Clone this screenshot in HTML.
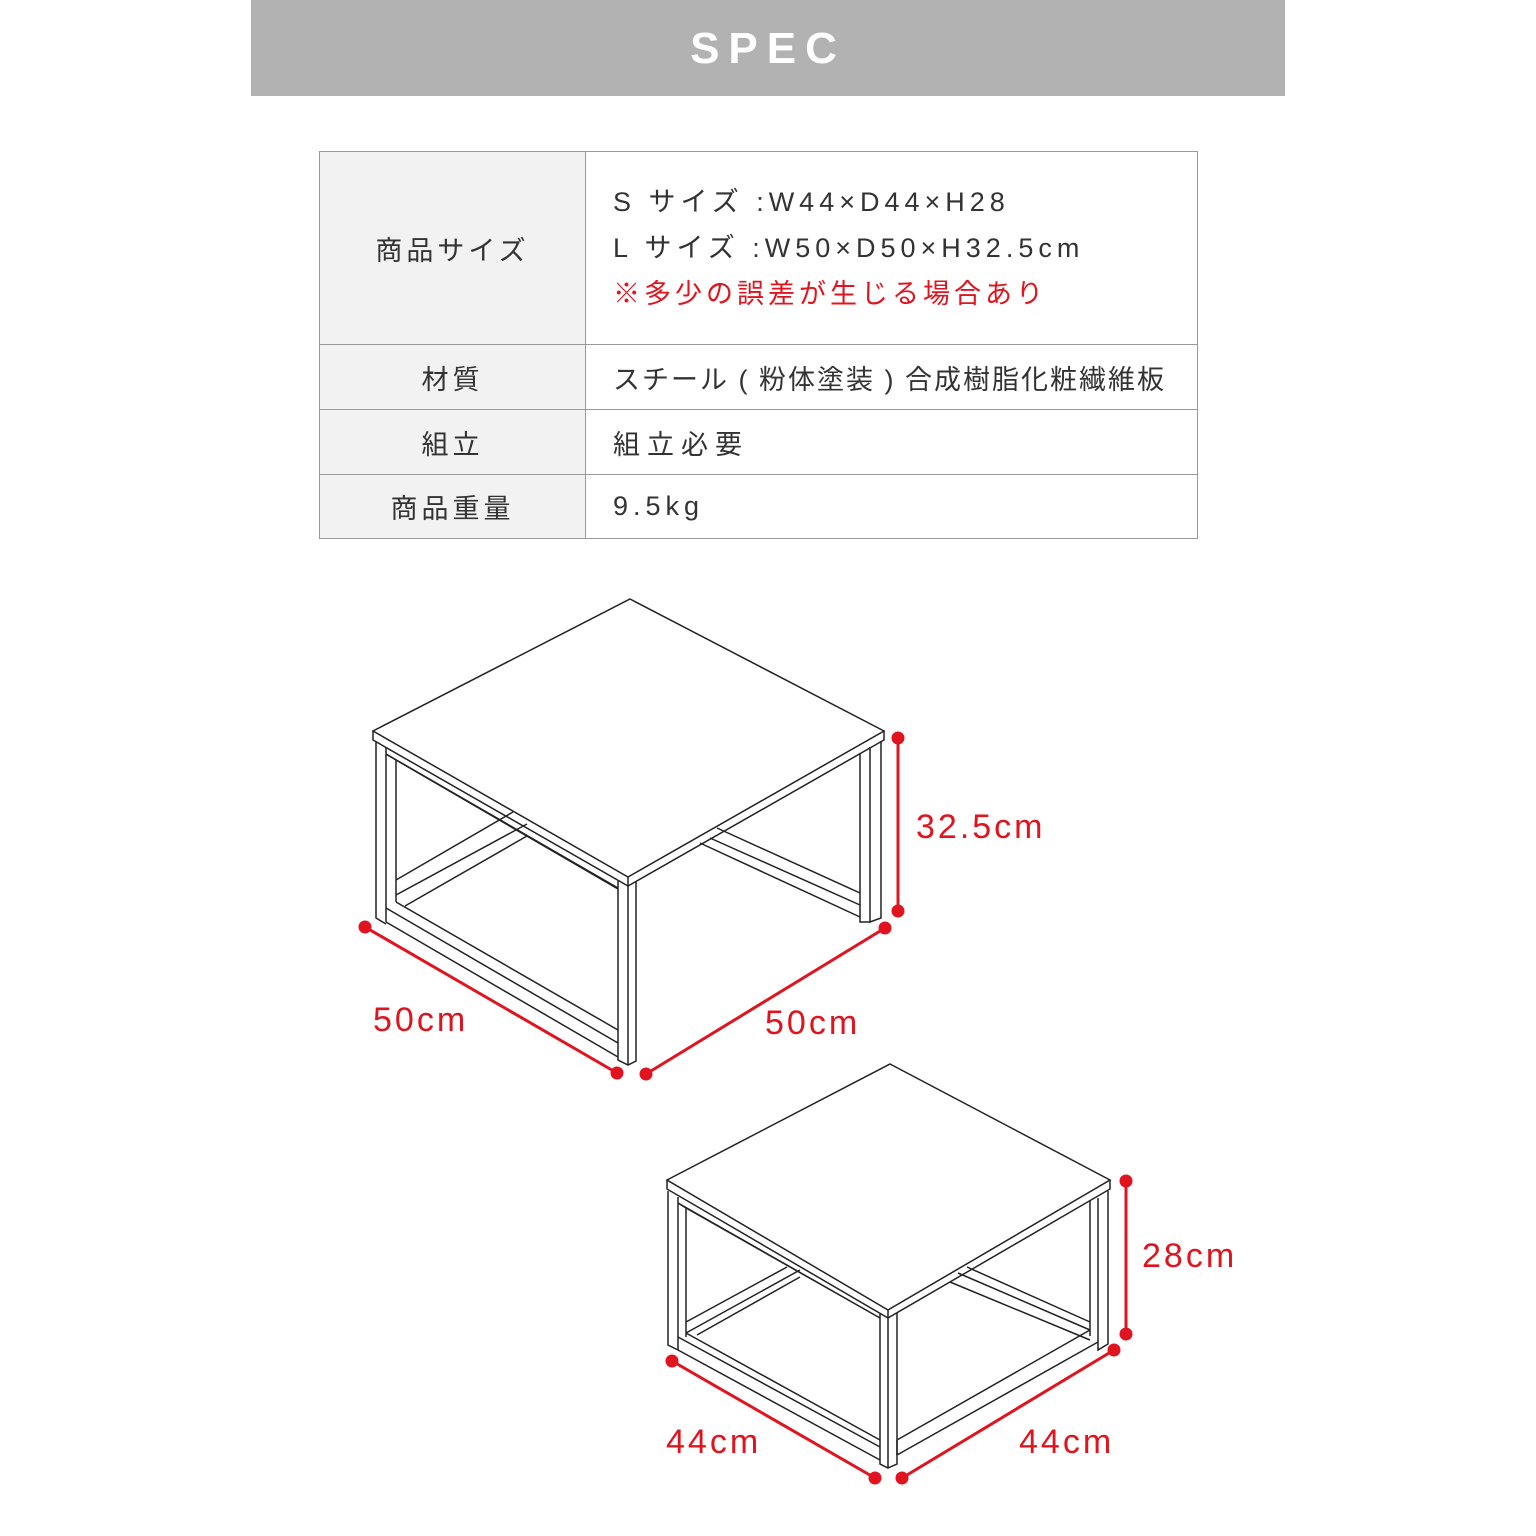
<!DOCTYPE html>
<html><head><meta charset="utf-8"><style>
body{margin:0;width:1536px;height:1536px;background:#fff;position:relative;overflow:hidden;font-family:"Liberation Sans","Noto Sans CJK JP",sans-serif;}
.hdr{position:absolute;left:251px;top:0;width:1034px;height:96px;background:#b2b2b2;color:#fff;font-size:44px;font-weight:bold;letter-spacing:9px;text-align:center;line-height:98px;}
table{position:absolute;left:319px;top:151px;width:879px;border-collapse:collapse;font-family:"Liberation Sans","Noto Sans CJK JP",sans-serif;color:#333;font-size:27px;letter-spacing:2px;}
td{border:1.5px solid #999;padding:0;}
td.l{background:#f2f2f2;width:265px;text-align:center;letter-spacing:4px;}
td.r{padding-left:27px;}
.red{color:#e0141e;letter-spacing:4px;}
svg{position:absolute;left:0;top:0;}
</style></head><body>
<div class="hdr">SPEC</div>
<table>
<tr style="height:193px"><td class="l">商品サイズ</td><td class="r" style="line-height:46px;letter-spacing:5px">S サイズ :W44×D44×H28<br>L サイズ :W50×D50×H32.5cm<br><span class="red">※多少の誤差が生じる場合あり</span></td></tr>
<tr style="height:65px"><td class="l">材質</td><td class="r" style="letter-spacing:2px">スチール ( 粉体塗装 ) 合成樹脂化粧繊維板</td></tr>
<tr style="height:65px"><td class="l">組立</td><td class="r" style="letter-spacing:7px">組立必要</td></tr>
<tr style="height:64px"><td class="l">商品重量</td><td class="r" style="letter-spacing:5px">9.5kg</td></tr>
</table>
<svg width="1536" height="1536" viewBox="0 0 1536 1536">
<g fill="none" stroke="#222" stroke-width="1.5">
<path d="M630 599 L884 731 L628 877 L373 731 Z"/>
<path d="M373 731 L373 740 L628 886 L884 740 L884 731"/>
<path d="M628 877 L628 886"/>
<path d="M376 742 L376 918 L386 924 M386 748 L386 922 M386 754 L396 760 L396 902"/>
<path d="M618 881 L618 1060 L628 1065 L636 1061 L636 882"/>
<path d="M628 886 L628 1065"/>
<path d="M881 741 L881 918 L870 922 L870 747 M860 753 L860 922 L870 922"/>
<path d="M396 760 L618 889 M386 754 L618 888"/>
<path d="M386 908 L618 1043 M386 922 L618 1057 M396 902 L618 1030"/>
<path d="M396 880 L513 812 M396 895 L527 824 M405 906 L527 836"/>
<path d="M710 838 L860 905 M717 828 L860 893 M860 917 L700 843"/>
<path d="M890 1064 L1110 1180 L888 1310 L667 1180 Z"/>
<path d="M667 1180 L667 1189 L888 1318 L1110 1189 L1110 1180"/>
<path d="M888 1310 L888 1318"/>
<path d="M668 1191 L668 1345 L678 1350 M678 1197 L678 1350 M678 1203 L686 1208 L686 1337"/>
<path d="M880 1314 L880 1464 L888 1468 L897 1464 L897 1313 M888 1318 L888 1468"/>
<path d="M1108 1191 L1108 1344 L1098 1350 L1098 1198 M1090 1201 L1090 1336"/>
<path d="M686 1208 L880 1318 M678 1203 L880 1318"/>
<path d="M678 1337 L880 1447 M678 1350 L880 1460 M686 1333 L880 1440"/>
<path d="M686 1322 L787 1267 M686 1333 L800 1270 M697 1335 L800 1277"/>
<path d="M897 1440 L1090 1330 M897 1455 L1098 1342 M897 1440 L897 1455"/>
<path d="M958 1273 L1090 1330 M967 1267 L1090 1322 M950 1282 L1090 1340"/>
</g>
<g stroke="#e0141e" stroke-width="3" fill="#e0141e">
<line x1="898" y1="738" x2="898" y2="911"/><circle cx="898" cy="738" r="5"/><circle cx="898" cy="911" r="5"/>
<line x1="365" y1="927" x2="617" y2="1073"/><circle cx="365" cy="927" r="5"/><circle cx="617" cy="1073" r="5"/>
<line x1="646" y1="1074" x2="885" y2="928"/><circle cx="646" cy="1074" r="5"/><circle cx="885" cy="928" r="5"/>
<line x1="1126" y1="1181" x2="1126" y2="1334"/><circle cx="1126" cy="1181" r="5"/><circle cx="1126" cy="1334" r="5"/>
<line x1="672" y1="1361" x2="875" y2="1478"/><circle cx="672" cy="1361" r="5"/><circle cx="875" cy="1478" r="5"/>
<line x1="902" y1="1478" x2="1114" y2="1350"/><circle cx="902" cy="1478" r="5"/><circle cx="1114" cy="1350" r="5"/>
</g>
<g fill="#e0141e" font-family="Liberation Sans, sans-serif" font-size="34" letter-spacing="3">
<text x="916" y="838">32.5cm</text>
<text x="373" y="1031">50cm</text>
<text x="765" y="1034">50cm</text>
<text x="1142" y="1267">28cm</text>
<text x="666" y="1453">44cm</text>
<text x="1019" y="1453">44cm</text>
</g>
</svg>
</body></html>
